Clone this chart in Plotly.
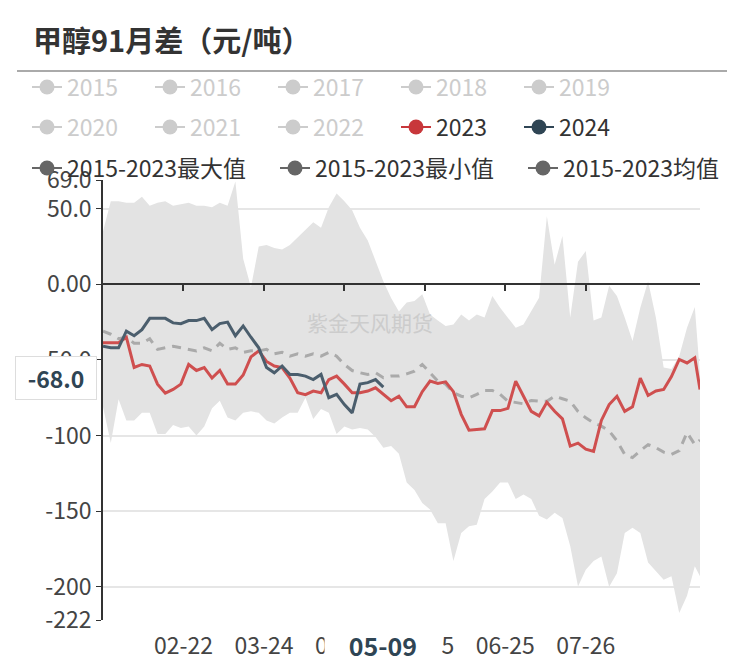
import plotly.graph_objects as go

# ── dati (lettura dal grafico, passo ~3 giorni) ─────────────────────
DATES = [
    "01-22", "01-25", "01-28", "01-31", "02-03", "02-06", "02-09", "02-12",
    "02-15", "02-18", "02-21", "02-24", "02-27", "03-01", "03-04", "03-07",
    "03-10", "03-13", "03-16", "03-19", "03-22", "03-25", "03-28", "03-31",
    "04-03", "04-06", "04-09", "04-12", "04-15", "04-18", "04-21", "04-24",
    "04-27", "04-30", "05-03", "05-06", "05-09", "05-12", "05-15", "05-18",
    "05-21", "05-24", "05-27", "05-30", "06-02", "06-05", "06-08", "06-11",
    "06-14", "06-17", "06-20", "06-23", "06-26", "06-29", "07-02", "07-05",
    "07-08", "07-11", "07-14", "07-17", "07-20", "07-23", "07-26", "07-29",
    "08-01", "08-04", "08-07", "08-10", "08-13", "08-16", "08-19", "08-22",
    "08-25", "08-28", "08-31", "09-03", "09-06", "09-08",
]

MAX_15_23 = [
    35, 55, 55, 54, 54, 58, 52, 54, 55, 52, 53, 54, 52, 52, 51, 54,
    52, 68, 17, -2, 25, 26, 24, 23, 26, 31, 36, 41, 37.5, 51, 60, 55,
    49, 37.5, 29, 15.5, 2, -9, -18, -12, -11, -6.6, -20, -24, -27.6, -26.5,
    -20, -24, -20, -22, -7.7, -15.5, -22, -28.7, -26.5, -17.7, -8.8, 45,
    13, 32, -22, 15, 22, -24, -22, -1, -7.7, -22, -37.5, -15.5, 2, -22,
    -55, -56, -47.5, -28.7, -15, -60,
]

MIN_15_23 = [
    -81, -105, -76, -90, -90, -85, -85, -99, -99, -93, -95, -94, -100, -94,
    -82, -77, -88, -90, -85, -84, -85, -90, -92, -88, -85, -85, -75, -89,
    -82.5, -85, -99, -94, -96, -95, -96, -101, -108, -107, -112, -131,
    -136, -144.6, -149, -158, -158, -183, -164.5, -160, -159, -142, -137,
    -131, -131, -142, -139, -142, -153, -155.6, -151, -154.5, -173, -199.8,
    -188.7, -183, -180, -200, -191, -164.5, -161, -164.5, -184, -190,
    -195.4, -193, -217.4, -206, -186.5, -193,
]

MEAN_15_23 = [
    -31, -33, -36, -35, -39, -39, -36, -43, -42, -41, -42, -43, -44, -42,
    -44, -39, -43, -42, -45, -44, -44, -43, -46, -45, -47.5, -46, -47.5,
    -46, -47.5, -45, -47.5, -53, -57, -58.5, -59.6, -58.5, -61.8, -60.7,
    -60.7, -59.2, -57.4, -53, -58.5, -64, -66, -71.7, -74, -75, -72.8,
    -70.2, -70.2, -72.8, -77.3, -78.4, -79, -76.8, -77.3, -77.3, -74,
    -75.7, -77.3, -84, -88.3, -91.6, -93.8, -97, -103.5, -112.5, -114.6,
    -110, -106, -108, -111, -112.5, -110, -98, -106, -103,
]

Y2023 = [
    -38.6, -38.6, -38.6, -35, -55, -53, -54, -66, -72, -69.5, -66, -53,
    -57, -55, -62, -57, -66, -66, -60, -48, -44, -51, -54, -55, -62,
    -71.7, -73, -70.6, -71.7, -63, -60.7, -66, -71.7, -71.7, -70.6, -68.4,
    -72.8, -77, -74, -81, -81, -71, -64, -65.5, -64.5, -71, -86, -96.5,
    -96, -95.5, -83.5, -83.5, -82, -64, -74, -84, -87, -78, -84, -89,
    -107, -105, -109, -110.5, -90, -79.5, -74, -84, -81, -62, -73.5,
    -70.5, -69.5, -61, -49.7, -52, -48.6, -69.5,
]

Y2024 = [
    -41, -42, -42, -31, -34, -30, -22.5, -22.5, -22.5, -25.5, -26, -24,
    -24, -22.5, -30, -26, -25, -34, -27.5, -35, -42, -55, -58.5, -54,
    -59.6, -59.6, -60.7, -63, -59.6, -75, -72.8, -79.5, -85, -66, -65,
    -63, -68,
]

INACTIVE_YEARS = ["2015", "2016", "2017", "2018", "2019", "2020", "2021", "2022"]
STAT_NAMES = ["2015-2023最大值", "2015-2023最小值", "2015-2023均值"]

Y_TICKS = [69, 50, 0, -50, -100, -150, -200, -222]
Y_TICKTEXT = ["69.0", "50.0", "0.00", "-50.0", "-100", "-150", "-200", "-222"]
X_TICKS = ["02-22", "03-24", "04-24", "05-25", "06-25", "07-26"]

# ── stile ───────────────────────────────────────────────────
FONT = "Noto Sans CJK SC, Microsoft YaHei, sans-serif"
C_2023 = "#cf4f4f"
C_2024 = "#4b5e6d"
C_AREA = "#e3e3e3"
C_MEAN = "#aaaaaa"

# la pagina html ha 8px di margine sul body
OFF = 8
W, H = 746 - OFF, 665 - OFF
L, T = 103 - OFF, 180 - OFF
R, B = W - (700 - OFF), H - (620 - OFF)
PW, PH = W - L - R, H - T - B


def px_x(px):
    """pixel pagina -> coordinata paper"""
    return (px - OFF - L) / PW


def px_y(py):
    return (H - B - (py - OFF)) / PH


x = ["2024-" + d for d in DATES]
x24 = x[: len(Y2024)]
x_range = ["2024-01-22", "2024-09-08"]

fig = go.Figure()

# area max/min
fig.add_trace(go.Scatter(x=x, y=MAX_15_23, mode="lines", line=dict(width=0),
                         showlegend=False, hoverinfo="skip"))
fig.add_trace(go.Scatter(x=x, y=MIN_15_23, mode="lines", line=dict(width=0),
                         fill="tonexty", fillcolor=C_AREA,
                         showlegend=False, hoverinfo="skip"))
# media
fig.add_trace(go.Scatter(x=x, y=MEAN_15_23, mode="lines",
                         line=dict(color=C_MEAN, width=3, dash="9px,7px"),
                         showlegend=False))
fig.add_trace(go.Scatter(x=x, y=Y2023, mode="lines",
                         line=dict(color=C_2023, width=3), showlegend=False))
fig.add_trace(go.Scatter(x=x24, y=Y2024, mode="lines",
                         line=dict(color=C_2024, width=3), showlegend=False))


# ── voci di legenda ─────────────────────────────────────────
def legend_item(name, color, legend, text_color=None):
    label = f'<span style="color:{text_color}">{name}</span>' if text_color else name
    fig.add_trace(go.Scatter(
        x=[None], y=[None], mode="lines+markers", name=label, legend=legend,
        xaxis="x2",
        line=dict(color=color, width=2),
        marker=dict(color=color, size=15),
    ))


for yr in INACTIVE_YEARS[:5]:
    legend_item(yr, "#cccccc", "legend", "#cccccc")
for yr in INACTIVE_YEARS[5:]:
    legend_item(yr, "#cccccc", "legend2", "#cccccc")
legend_item("2023", "#c8373b", "legend2")
legend_item("2024", "#2f4554", "legend2")
for i, nm in enumerate(STAT_NAMES):
    legend_item(nm, "#666666", f"legend{3 + i}")

leg_common = dict(orientation="h", xanchor="left", yanchor="middle",
                  font=dict(family=FONT, size=23, color="#333333"),
                  entrywidthmode="pixels", itemwidth=30,
                  bgcolor="rgba(0,0,0,0)", traceorder="normal")

fig.update_layout(
    width=W, height=H,
    margin=dict(l=L, r=R, t=T, b=B, autoexpand=False),
    paper_bgcolor="white", plot_bgcolor="white",
    font=dict(family=FONT, size=23, color="#333333"),
    showlegend=True,
    legend=dict(x=px_x(27), y=px_y(87), entrywidth=78, **leg_common),
    legend2=dict(x=px_x(27), y=px_y(127), entrywidth=78, **leg_common),
    legend3=dict(x=px_x(27), y=px_y(168), **leg_common),
    legend4=dict(x=px_x(275), y=px_y(168), **leg_common),
    legend5=dict(x=px_x(523), y=px_y(168), **leg_common),
    xaxis=dict(
        type="date", range=x_range, automargin=False,
        tickvals=["2024-" + d for d in X_TICKS], ticktext=X_TICKS,
        showgrid=False, zeroline=False, showline=False,
        ticks="outside", ticklen=5, tickcolor="rgba(0,0,0,0)",
        tickfont=dict(size=23, color="#444444"),
    ),
    xaxis2=dict(
        type="date", range=x_range, overlaying="x", anchor="free",
        position=(0 - Y_TICKS[-1]) / (Y_TICKS[0] - Y_TICKS[-1]),
        tickvals=["2024-" + d for d in X_TICKS], showticklabels=False,
        showgrid=False, zeroline=False, automargin=False,
        showline=True, linecolor="#333333", linewidth=2,
        ticks="outside", ticklen=6, tickwidth=2, tickcolor="#333333",
    ),
    yaxis=dict(
        range=[Y_TICKS[-1], Y_TICKS[0]], automargin=False,
        tickvals=Y_TICKS, ticktext=Y_TICKTEXT,
        showgrid=True, gridcolor="#e6e6e6", gridwidth=1.5,
        zeroline=False,
        showline=True, linecolor="#333333", linewidth=1.5,
        ticks="outside", ticklen=5, tickcolor="#333333",
        tickfont=dict(size=23, color="#444444"),
    ),
    hovermode=False,
)

# ── titolo, watermark, etichette del puntatore ─────────────────
fig.add_annotation(text="<b>甲醇91月差（元/吨）</b>", xref="paper", yref="paper",
                   x=px_x(31), y=px_y(39), xanchor="left", yanchor="middle",
                   showarrow=False, font=dict(family=FONT, size=29, color="#333333"))
fig.add_shape(type="line", xref="paper", yref="paper",
              x0=px_x(17), x1=px_x(727), y0=px_y(71), y1=px_y(71),
              line=dict(color="#aaaaaa", width=2))
fig.add_annotation(text="紫金天风期货", xref="paper", yref="paper",
                   x=px_x(370), y=px_y(322), xanchor="center", yanchor="middle",
                   showarrow=False,
                   font=dict(family=FONT, size=21, color="#cccccc"))
fig.add_annotation(text="<b>-68.0</b>", xref="paper", yref="paper",
                   x=px_x(56), y=px_y(378), xanchor="center", yanchor="middle",
                   showarrow=False,
                   bgcolor="white", bordercolor="#dddddd", borderwidth=1,
                   borderpad=4, width=72,
                   font=dict(family=FONT, size=23, color="#2f4554"))
fig.add_annotation(text="<b>05-09</b>", xref="x", yref="paper",
                   x="2024-05-09", y=px_y(645), xanchor="center", yanchor="middle",
                   showarrow=False, bgcolor="white", width=114, height=34,
                   font=dict(family=FONT, size=25, color="#2f4554"))

fig.write_html("out.html")
